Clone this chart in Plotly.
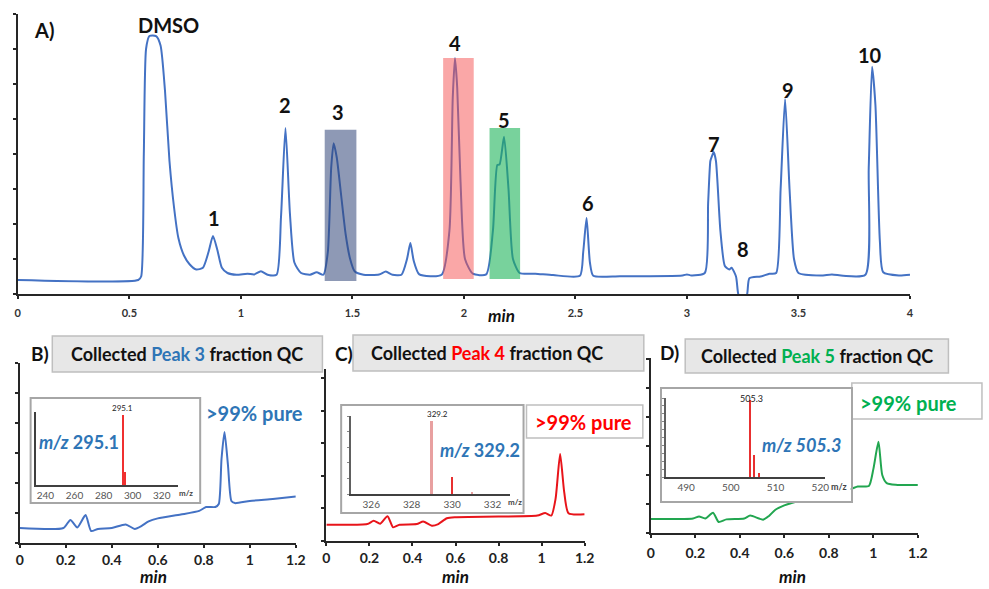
import plotly.graph_objects as go

W, H = 989, 589
FONT = "Lato"

# ---------------- DATA ----------------
# A) full chromatogram (time in min, signal in tick units)
a_time = [0.00, 0.54, 0.553, 0.565, 0.575, 0.59, 0.62, 0.64, 0.66, 0.68, 0.70, 0.72, 0.745, 0.77, 0.80,
          0.83, 0.855, 0.875, 0.895, 0.915, 0.94, 0.98, 1.03, 1.06, 1.09, 1.12, 1.16, 1.18, 1.20, 1.22,
          1.24, 1.27, 1.31, 1.34, 1.37, 1.39, 1.405, 1.416, 1.43, 1.45, 1.47, 1.49, 1.51, 1.55, 1.62,
          1.65, 1.68, 1.72, 1.745, 1.76, 1.775, 1.80, 1.90, 1.935, 1.95, 1.96, 1.97, 1.985, 2.005, 2.04,
          2.10, 2.13, 2.15, 2.16, 2.18, 2.20, 2.22, 2.25, 2.32, 2.40, 2.52, 2.535, 2.55, 2.565, 2.58,
          2.70, 2.98, 3.00, 3.02, 3.08, 3.095, 3.105, 3.11, 3.12, 3.13, 3.15, 3.17, 3.19, 3.20, 3.22,
          3.23, 3.25, 3.27, 3.28, 3.33, 3.37, 3.40, 3.42, 3.44, 3.46, 3.48, 3.50, 3.60, 3.65, 3.70,
          3.80, 3.815, 3.83, 3.845, 3.865, 3.88, 3.95, 4.00]
a_signal = [0.40, 0.40, 0.50, 4.00, 7.00, 7.37, 7.37, 7.10, 5.80, 3.80, 2.50, 1.60, 1.10, 0.85, 0.70,
            0.75, 1.20, 1.66, 1.25, 0.75, 0.60, 0.55, 0.58, 0.56, 0.65, 0.55, 0.55, 2.20, 4.74, 2.30,
            0.90, 0.60, 0.55, 0.62, 0.55, 1.20, 3.60, 4.31, 3.90, 2.80, 1.70, 1.00, 0.65, 0.55, 0.56,
            0.64, 0.55, 0.55, 1.00, 1.46, 0.95, 0.56, 0.55, 1.80, 5.60, 6.74, 5.90, 3.20, 1.00, 0.58,
            0.56, 1.80, 3.69, 3.70, 4.49, 3.00, 1.00, 0.60, 0.58, 0.54, 0.52, 1.20, 2.17, 0.90, 0.52,
            0.51, 0.53, 0.56, 0.53, 0.60, 2.60, 3.80, 3.90, 4.06, 3.80, 1.80, 0.80, 0.70, 0.75, 0.50,
            0.00, -0.30, 0.00, 0.45, 0.50, 0.58, 0.60, 3.00, 5.57, 3.00, 1.00, 0.60, 0.53, 0.56, 0.52,
            0.55, 3.60, 6.49, 5.40, 1.50, 0.62, 0.53, 0.55]

peak_labels = ["DMSO", "1", "2", "3", "4", "5", "6", "7", "8", "9", "10"]
peak_label_x = [0.677, 0.88, 1.20, 1.435, 1.96, 2.18, 2.555, 3.12, 3.25, 3.455, 3.82]
peak_label_y = [7.69, 2.17, 5.40, 5.20, 7.17, 4.97, 2.60, 4.30, 1.30, 5.83, 6.83]

# collected fraction windows: (start, end, bottom, top) for peaks 3, 4, 5
window_start = [1.376, 1.907, 2.115]
window_end = [1.518, 2.044, 2.252]
window_bottom = [0.37, 0.43, 0.43]
window_top = [4.69, 6.74, 4.74]
window_color = ["rgba(50,70,120,0.55)", "rgba(245,80,80,0.50)", "rgba(30,180,90,0.60)"]

# B) Peak 3 fraction QC
b_time = [0.00, 0.19, 0.22, 0.25, 0.286, 0.31, 0.34, 0.40, 0.46, 0.50, 0.53, 0.56, 0.60, 0.70, 0.78,
          0.81, 0.85, 0.865, 0.877, 0.89, 0.905, 0.92, 0.935, 1.00, 1.10, 1.20]
b_signal = [0.50, 0.50, 0.77, 0.52, 0.93, 0.40, 0.47, 0.50, 0.62, 0.47, 0.57, 0.72, 0.82, 0.95, 1.07,
            1.20, 1.20, 1.30, 2.80, 3.70, 2.60, 1.40, 1.33, 1.40, 1.47, 1.55]

# C) Peak 4 fraction QC
c_time = [0.00, 0.19, 0.22, 0.25, 0.284, 0.31, 0.34, 0.42, 0.45, 0.49, 0.52, 0.56, 0.60, 0.80, 0.98,
          1.017, 1.045, 1.065, 1.086, 1.105, 1.125, 1.20]
c_signal = [0.50, 0.52, 0.62, 0.53, 0.76, 0.42, 0.50, 0.52, 0.60, 0.47, 0.52, 0.70, 0.73, 0.75, 0.78,
            0.86, 0.78, 1.30, 2.67, 1.50, 0.85, 0.82]

# D) Peak 5 fraction QC
d_time = [0.00, 0.19, 0.217, 0.245, 0.28, 0.305, 0.34, 0.42, 0.447, 0.505, 0.53, 0.56, 0.60, 0.70,
          0.80, 0.90, 0.93, 0.98, 1.00, 1.023, 1.04, 1.06, 1.10, 1.20]
d_signal = [0.48, 0.50, 0.57, 0.50, 0.70, 0.38, 0.47, 0.50, 0.60, 0.46, 0.58, 0.80, 0.95, 1.18,
            1.37, 1.52, 1.60, 1.62, 2.20, 3.14, 2.00, 1.72, 1.66, 1.65]

# mass spectra insets (m/z, relative intensity)
ms_b_mz = [293.0, 294.1]
ms_b_int = [0.96, 0.18]
ms_c_mz = [329.0, 330.0, 331.0]
ms_c_int = [0.94, 0.22, 0.02]
ms_d_mz = [504.2, 505.1, 506.2]
ms_d_int = [0.97, 0.28, 0.05]

# ---------------- helpers ----------------
def px(x):
    return x / W


def py(y):
    return 1 - y / H


BLUE_TXT = "#2E75B6"
RED_TXT = "#FF0000"
GREEN_TXT = "#00B050"
AX = "#262626"

fig = go.Figure()

# main traces
fig.add_trace(go.Scatter(x=a_time, y=a_signal, mode="lines", xaxis="x", yaxis="y",
                         line=dict(color="#4472C4", width=2, shape="spline", smoothing=0.6)))
fig.add_trace(go.Scatter(x=b_time, y=b_signal, mode="lines", xaxis="x2", yaxis="y2",
                         line=dict(color="#4472C4", width=2, shape="spline", smoothing=0.6)))
fig.add_trace(go.Scatter(x=c_time, y=c_signal, mode="lines", xaxis="x3", yaxis="y3",
                         line=dict(color="#E8141A", width=2, shape="spline", smoothing=0.6)))
fig.add_trace(go.Scatter(x=d_time, y=d_signal, mode="lines", xaxis="x4", yaxis="y4",
                         line=dict(color="#22A650", width=2, shape="spline", smoothing=0.6)))

# inset spectra
fig.add_trace(go.Bar(x=ms_b_mz, y=ms_b_int, xaxis="x5", yaxis="y5", width=1.3,
                     marker=dict(color="#F03030", line=dict(width=0))))
fig.add_trace(go.Bar(x=ms_c_mz, y=ms_c_int, xaxis="x6", yaxis="y6", width=0.09,
                     marker=dict(color=["#E8A0A0", "#E83030", "#E8A0A0"], line=dict(width=0))))
# D inset background panel (covers the chromatogram running beneath it)
fig.add_trace(go.Scatter(x=[0, 1, 1, 0, 0], y=[0, 0, 1, 1, 0], xaxis="x7", yaxis="y7",
                         mode="lines", fill="toself", fillcolor="white",
                         line=dict(width=0), hoverinfo="skip"))
fig.add_trace(go.Bar(x=ms_d_mz, y=ms_d_int, xaxis="x8", yaxis="y8", width=0.45,
                     marker=dict(color="#E83030", line=dict(width=0))))

# ---------------- axes ----------------
def ax_common(**kw):
    d = dict(showgrid=False, zeroline=False, showline=True, linecolor=AX, linewidth=2,
             ticks="outside", ticklen=3, tickcolor=AX, tickwidth=1.5)
    d.update(kw)
    return d

layout = dict(
    width=W, height=H, margin=dict(l=0, r=0, t=0, b=0),
    paper_bgcolor="white", plot_bgcolor="rgba(0,0,0,0)", showlegend=False,
    font=dict(family=FONT, color="#222"), bargap=0,
    xaxis=ax_common(domain=[px(14), px(919)], range=[0, 4], dtick=0.5, tick0=0, anchor="y",
                    tickfont=dict(size=11, color="#333", weight="bold"), ticklabelstandoff=5),
    yaxis=ax_common(domain=[py(294), py(14)], range=[0, 8], dtick=1, anchor="x",
                    showticklabels=False),
    xaxis2=ax_common(domain=[px(16), px(296)], range=[0, 1.2], dtick=0.2, tick0=0, anchor="y2",
                     tickfont=dict(size=14, color="#222", weight="bold"), ticklabelstandoff=0),
    yaxis2=ax_common(domain=[py(543), py(363)], range=[0, 6], dtick=1, anchor="x2",
                     showticklabels=False),
    xaxis3=ax_common(domain=[px(327), px(589)], range=[0, 1.2], dtick=0.2, tick0=0, anchor="y3",
                     tickfont=dict(size=14, color="#222", weight="bold"), ticklabelstandoff=0),
    yaxis3=ax_common(domain=[py(541), py(369)], range=[0, 5.28], dtick=1, anchor="x3",
                     showticklabels=False),
    xaxis4=ax_common(domain=[px(656), px(927)], range=[0, 1.2], dtick=0.2, tick0=0, anchor="y4",
                     tickfont=dict(size=14, color="#222", weight="bold"), ticklabelstandoff=3),
    yaxis4=ax_common(domain=[py(533), py(358)], range=[0, 6.03], dtick=1, anchor="x4",
                     showticklabels=False),
    # inset B
    xaxis5=dict(domain=[px(32), px(177)], range=[233.2, 331.5], dtick=20, tick0=240, anchor="y5",
                showgrid=False, zeroline=False, showline=True, linecolor="#404040", linewidth=2,
                ticks="", tickfont=dict(size=10, color="#555"), ticklabelstandoff=0),
    yaxis5=dict(domain=[py(485), py(412)], range=[0, 1], anchor="x5", showgrid=False,
                zeroline=False, showline=True, linecolor="#404040", linewidth=2,
                showticklabels=False, ticks=""),
    # inset C
    xaxis6=dict(domain=[px(352), px(513)], range=[325.0, 332.85], dtick=2, tick0=326, anchor="y6",
                showgrid=False, zeroline=False, showline=True, linecolor="#404040", linewidth=2,
                ticks="", tickfont=dict(size=10, color="#555"), ticklabelstandoff=0),
    yaxis6=dict(domain=[py(494), py(416)], range=[0, 1], anchor="x6", showgrid=False,
                zeroline=False, showline=True, linecolor="#606060", linewidth=1.5,
                showticklabels=False, ticks="outside", ticklen=2, dtick=0.2, tickcolor="#888"),
    # inset D background
    xaxis7=dict(domain=[px(667), px(859)], range=[0, 1], anchor="y7", showgrid=False,
                zeroline=False, showline=True, mirror=True, linecolor="#A6A6A6", linewidth=2,
                showticklabels=False, ticks=""),
    yaxis7=dict(domain=[py(501), py(389)], range=[0, 1], anchor="x7", showgrid=False,
                zeroline=False, showline=True, mirror=True, linecolor="#A6A6A6", linewidth=2,
                showticklabels=False, ticks=""),
    # inset D
    xaxis8=dict(domain=[px(671), px(833)], range=[485.4, 521.1], dtick=10, tick0=490, anchor="y8",
                showgrid=False, zeroline=False, showline=True, linecolor="#404040", linewidth=2,
                ticks="", tickfont=dict(size=10, color="#555"), ticklabelstandoff=0),
    yaxis8=dict(domain=[py(477), py(398)], range=[0, 1], anchor="x8", showgrid=False,
                zeroline=False, showline=True, linecolor="#606060", linewidth=1.5,
                showticklabels=False, ticks="outside", ticklen=2, dtick=0.1, tickcolor="#888"),
)
fig.update_layout(**layout)

shapes = []
# fraction windows
for s, e, b, t, c in zip(window_start, window_end, window_bottom, window_top, window_color):
    shapes.append(dict(type="rect", xref="x", yref="y", x0=s, x1=e, y0=b, y1=t,
                       fillcolor=c, line=dict(width=0), layer="above"))

def paper_rect(x0, y0, x1, y1, fill, line, lw=1.5, layer="below"):
    return dict(type="rect", xref="paper", yref="paper", x0=px(x0), x1=px(x1), y0=py(y1), y1=py(y0),
                fillcolor=fill, line=dict(color=line, width=lw), layer=layer)

# title boxes
shapes.append(paper_rect(49, 336, 323, 372, "#E7E7E7", "#BFBFBF"))
shapes.append(paper_rect(354, 335, 649, 371, "#E7E7E7", "#BFBFBF"))
shapes.append(paper_rect(691, 339, 958, 373, "#E7E7E7", "#BFBFBF"))
# inset frames B and C
shapes.append(paper_rect(27, 398, 199, 503, "white", "#A6A6A6", 2))
shapes.append(paper_rect(342, 405, 527, 513, "white", "#A6A6A6", 2))
# purity boxes C and D
shapes.append(paper_rect(530, 405, 648, 438, "white", "#BFBFBF", 1.5))
shapes.append(paper_rect(860, 383, 992, 419, "white", "#BFBFBF", 1.5))
fig.update_layout(shapes=shapes)

ann = []
def txt(x, y, text, size, color="#111", xanchor="center"):
    ann.append(dict(xref="paper", yref="paper", x=px(x), y=py(y), text=text, showarrow=False,
                    xanchor=xanchor, yanchor="middle", font=dict(family=FONT, size=size, color=color)))

# peak labels on A
for lab, lx, ly in zip(peak_labels, peak_label_x, peak_label_y):
    ann.append(dict(xref="x", yref="y", x=lx, y=ly, text="<b>%s</b>" % lab, showarrow=False,
                    xanchor="center", yanchor="middle", font=dict(family=FONT, size=20, color="#111")))

txt(41, 30, "<b>A)</b>", 20)
txt(505, 315, "<b><i>min</i></b>", 17)

txt(37, 353, "<b>B)</b>", 19)
txt(345, 353, "<b>C)</b>", 19)
txt(675, 352, "<b>D)</b>", 19)

txt(186, 354, "<b>Collected <span style='color:%s'>Peak 3</span> fraction QC</b>" % BLUE_TXT, 18)
txt(490, 353, "<b>Collected <span style='color:%s'>Peak 4</span> fraction QC</b>" % RED_TXT, 18)
txt(825, 356, "<b>Collected <span style='color:%s'>Peak 5</span> fraction QC</b>" % GREEN_TXT, 18)

txt(254, 413, "<b>&gt;99% pure</b>", 20, BLUE_TXT)
txt(588, 422, "<b>&gt;99% pure</b>", 20, RED_TXT)
txt(917, 403, "<b>&gt;99% pure</b>", 20, GREEN_TXT)

txt(76, 442, "<b><i>m/z</i> 295.1</b>", 18, BLUE_TXT)
txt(483, 450, "<b><i>m/z</i> 329.2</b>", 18, BLUE_TXT)
txt(809, 445, "<b><i>m/z 505.3</i></b>", 18, BLUE_TXT)

txt(120, 408, "295.1", 8, "#222")
txt(440, 414, "329.2", 8, "#222")
txt(758, 398, "505.3", 9, "#222")

txt(185, 493, "<b>m/z</b>", 8, "#444")
txt(518, 502, "<b>m/z</b>", 8, "#444")
txt(847, 486, "<b>m/z</b>", 9, "#444")

txt(152, 576, "<b><i>min</i></b>", 17)
txt(458, 576, "<b><i>min</i></b>", 17)
txt(800, 576, "<b><i>min</i></b>", 17)

fig.update_layout(annotations=ann)
fig.write_html("out.html")
